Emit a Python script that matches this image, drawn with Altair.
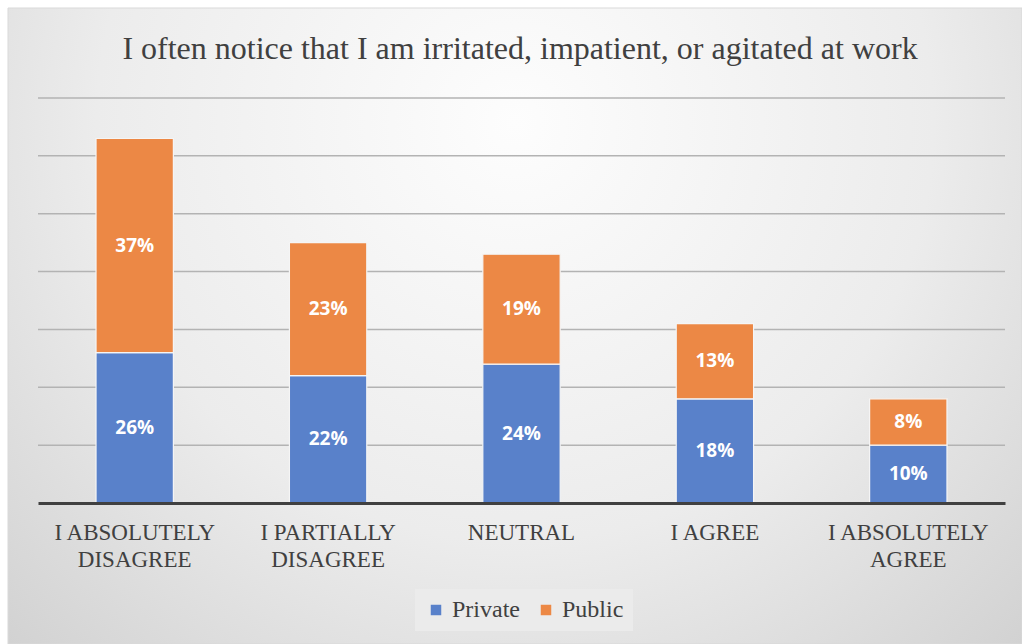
import altair as alt
import pandas as pd

categories = ["I ABSOLUTELY\nDISAGREE", "I PARTIALLY\nDISAGREE", "NEUTRAL", "I AGREE", "I ABSOLUTELY\nAGREE"]
private = [26, 22, 24, 18, 10]
public = [37, 23, 19, 13, 8]
series = ["Private", "Public"]
colors = ["#5981CA", "#EC8845"]
grid_values = [10, 20, 30, 40, 50, 60, 70]
title = "I often notice that I am irritated, impatient, or agitated at work"

rows = []
for i, c in enumerate(categories):
    rows.append({"cat": c, "series": "Private", "order": 0, "value": private[i]})
    rows.append({"cat": c, "series": "Public", "order": 1, "value": public[i]})
df = pd.DataFrame(rows)

W, H = 967, 405
PL, PT, PR, PB = 38, 98, 17, 141
yscale = alt.Scale(domain=[0, 70])

bg = alt.Chart(pd.DataFrame({"a": [0]})).mark_rect(
    fill=alt.Gradient(
        gradient="radial",
        stops=[alt.GradientStop(color="#fdfdfd", offset=0),
               alt.GradientStop(color="#ececec", offset=0.55),
               alt.GradientStop(color="#cfcfcf", offset=1)],
        x1=0.5, y1=0.3, r1=0, x2=0.5, y2=0.3, r2=0.75,
    ),
    stroke="#d9d9d9", strokeWidth=1,
).encode(
    x=alt.value(-PL + 8), x2=alt.value(W + PR),
    y=alt.value(-PT + 8), y2=alt.value(H + PB),
)

grid = alt.Chart(pd.DataFrame({"g": grid_values})).mark_rule(
    color="#b3b3b3", strokeWidth=1.5
).encode(y=alt.Y("g:Q", scale=yscale, axis=None), x=alt.value(0), x2=alt.value(W))

title_mark = alt.Chart(pd.DataFrame({"t": [title]})).mark_text(
    font="Liberation Serif", fontSize=32, color="#404040", baseline="middle", align="center"
).encode(text="t:N", x=alt.value(482), y=alt.value(-49))

xenc = alt.X("cat:N", sort=categories, title=None,
             scale=alt.Scale(paddingInner=0.6, paddingOuter=0.3),
             axis=alt.Axis(labelExpr="split(datum.label, '\\n')", labelAngle=0,
                           labelFont="Liberation Serif", labelFontSize=23,
                           labelColor="#404040", labelLineHeight=27,
                           labelPadding=29, ticks=False, domainColor="#404040",
                           domainWidth=3, grid=False, labelBaseline="middle", zindex=2))

bars = alt.Chart(df).mark_bar(stroke="#f5f5f5", strokeWidth=1.2).encode(
    x=xenc,
    y=alt.Y("value:Q", stack="zero", scale=yscale, title=None, axis=None),
    color=alt.Color("series:N", scale=alt.Scale(domain=series, range=colors), title=None,
                    legend=alt.Legend(orient="none", legendX=377, legendY=491, direction="horizontal",
                                      fillColor="#ebebeb", padding=9, symbolType="square",
                                      symbolSize=110, symbolStrokeWidth=0,
                                      labelFont="Liberation Serif", labelFontSize=24,
                                      labelColor="#404040", columnPadding=14, labelOffset=4)),
    order=alt.Order("order:Q"),
)

labels = alt.Chart(df).transform_stack(
    stack="value", groupby=["cat"], as_=["v0", "v1"], sort=[alt.SortField("order")]
).transform_calculate(
    mid="(datum.v0 + datum.v1) / 2", lab="datum.value + '%'"
).mark_text(font="Open Sans", fontWeight="bold", fontSize=19, color="white").encode(
    x=alt.X("cat:N", sort=categories),
    y=alt.Y("mid:Q", scale=yscale),
    text="lab:N",
)

chart = alt.layer(bg, grid, bars, labels, title_mark).properties(
    width=W, height=H, autosize=alt.AutoSizeParams(type="none"),
    padding={"left": PL, "top": PT, "right": PR, "bottom": PB},
    background="white",
).configure_view(stroke=None)

chart.save("out.html", embed_options={"renderer": "svg", "actions": False})
